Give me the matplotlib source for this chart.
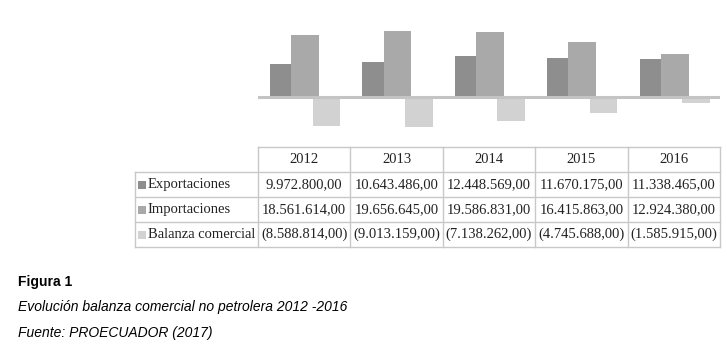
import matplotlib.pyplot as plt
from matplotlib.patches import Rectangle
import numpy as np

# data (miles de USD)
years = ["2012", "2013", "2014", "2015", "2016"]
exportaciones = [9972800.00, 10643486.00, 12448569.00, 11670175.00, 11338465.00]
importaciones = [18561614.00, 19656645.00, 19586831.00, 16415863.00, 12924380.00]
balanza = [-8588814.00, -9013159.00, -7138262.00, -4745688.00, -1585915.00]
series_names = ["Exportaciones", "Importaciones", "Balanza comercial"]
colors = ["#8e8e8e", "#a9a9a9", "#d2d2d2"]


def fmt(v):
    s = "{:,.2f}".format(abs(v)).replace(",", "X").replace(".", ",").replace("X", ".")
    return "(" + s + ")" if v < 0 else s


W, H = 727, 345
fig = plt.figure(figsize=(W / 100, H / 100), dpi=100)

# pixel overlay for table and caption
pax = fig.add_axes([0, 0, 1, 1])
pax.set_xlim(0, W)
pax.set_ylim(H, 0)
pax.axis("off")

# bar chart area
x0, x1 = 258, 720
top, bot = 0, 140
zero_y = 97.3
px_per_unit = 3.35 / 1e6
bax = fig.add_axes([x0 / W, 1 - bot / H, (x1 - x0) / W, (bot - top) / H])
bax.set_xlim(-0.5, 4.5)
bax.set_ylim(-(bot - zero_y) / px_per_unit, (zero_y - top) / px_per_unit)
bax.axis("off")

x = np.arange(len(years))
w = 0.3
bax.bar(x - 0.22, exportaciones, width=w, align="center", color=colors[0], zorder=2)
bax.bar(x + 0.01, importaciones, width=w, align="center", color=colors[1], zorder=3)
bax.bar(x + 0.24, balanza, width=w, align="center", color=colors[2], zorder=2)
bax.axhline(0, color="#c4c4c4", lw=2.2, zorder=4)

# table
grid = "#c8c8c8"
col_x = [258, 350.4, 442.8, 535.2, 627.6, 720]
row_y = [147, 172, 197, 222, 247]
label_left = 135
tfont = dict(family="Liberation Serif", fontsize=10.5, color="#222222")

for cx in col_x:
    pax.plot([cx, cx], [row_y[0], row_y[-1]], color=grid, lw=1)
pax.plot([label_left, label_left], [row_y[1], row_y[-1]], color=grid, lw=1)
pax.plot([col_x[0], col_x[-1]], [row_y[0], row_y[0]], color=grid, lw=1)
for ry in row_y[1:]:
    pax.plot([label_left, col_x[-1]], [ry, ry], color=grid, lw=1)

for j, yr in enumerate(years):
    cxm = (col_x[j] + col_x[j + 1]) / 2
    pax.text(cxm, (row_y[0] + row_y[1]) / 2, yr, ha="center", va="center", **tfont)

rows = [exportaciones, importaciones, balanza]
for i, (name, vals) in enumerate(zip(series_names, rows)):
    ym = (row_y[i + 1] + row_y[i + 2]) / 2
    pax.add_patch(Rectangle((137.5, ym - 4), 8, 8, color=colors[i], lw=0))
    pax.text(147.5, ym, name, ha="left", va="center", **tfont)
    for j, v in enumerate(vals):
        cxm = (col_x[j] + col_x[j + 1]) / 2
        pax.text(cxm, ym, fmt(v), ha="center", va="center", **tfont)

# caption
pax.text(18, 286, "Figura 1", ha="left", va="baseline", family="Liberation Sans",
         fontsize=10, fontweight="bold", color="black")
pax.text(18, 311, "Evolución balanza comercial no petrolera 2012 -2016", ha="left",
         va="baseline", family="Liberation Sans", fontsize=10, style="italic", color="black")
pax.text(18, 337, "Fuente: PROECUADOR (2017)", ha="left", va="baseline",
         family="Liberation Sans", fontsize=10, style="italic", color="black")

plt.savefig("out.png", dpi=100)
